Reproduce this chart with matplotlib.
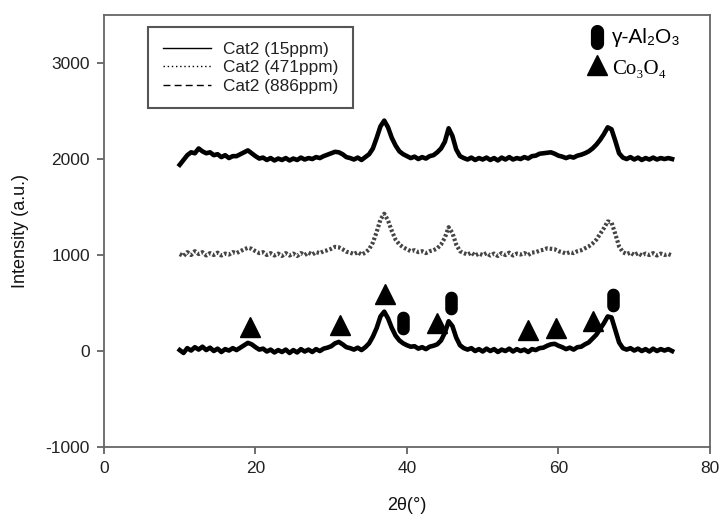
import numpy as np
import matplotlib
matplotlib.use('Agg')
import matplotlib.pyplot as plt
from matplotlib.path import Path
from matplotlib.lines import Line2D

# XRD patterns, 0.5 deg steps from 10 to 75 deg (2theta)
theta_start = 10.0
theta_step = 0.5

cat2_15ppm = [
    1940, 1990, 2040, 2070, 2060, 2110, 2080, 2060, 2070, 2040,
    2050, 2020, 2040, 2010, 2030, 2030, 2050, 2070, 2090, 2060,
    2030, 2005, 2015, 1990, 2010, 1985, 2005, 1990, 2010, 1985,
    2005, 1990, 2015, 1995, 2010, 2000, 2020, 2010, 2030, 2045,
    2060, 2075, 2070, 2050, 2020, 2010, 1995, 2015, 1990, 2020,
    2050, 2110, 2220, 2340, 2400, 2330, 2220, 2140, 2080, 2050,
    2030, 2010, 2025, 2000, 2020, 2005, 2030, 2040, 2070, 2110,
    2180, 2320, 2240, 2100, 2030, 2010, 1995, 2015, 1990, 2010,
    1995, 2015, 1990, 2010, 1985, 2015, 1995, 2020, 1995, 2010,
    2000, 2020, 2005, 2030, 2035, 2055, 2060, 2065, 2070, 2055,
    2035, 2025, 2010, 2025, 2015, 2035, 2045, 2060, 2080, 2110,
    2150, 2200, 2260, 2330, 2310, 2190, 2060, 2015, 2000, 2020,
    1995, 2015, 1990, 2010, 1995, 2015, 1995, 2010, 2000, 2010,
    2000]

cat2_471ppm = [
    1010, 990, 1030, 1000, 1040, 1010, 1030, 995, 1020, 1000,
    1025, 995, 1015, 1005, 1030, 1020, 1040, 1060, 1075, 1065,
    1040, 1020, 1030, 1000, 1020, 995, 1015, 990, 1020, 995,
    1015, 990, 1020, 1000, 1025, 1005, 1030, 1020, 1040, 1050,
    1065, 1085, 1080, 1060, 1035, 1025, 1010, 1030, 1005, 1025,
    1060, 1130, 1240, 1370, 1430, 1360, 1250, 1160, 1110, 1080,
    1060, 1040, 1050, 1030, 1040, 1020, 1040, 1050, 1070, 1110,
    1180, 1290, 1230, 1110, 1040, 1020, 1005, 1025, 995, 1015,
    1000, 1020, 995, 1015, 990, 1020, 1000, 1025, 995, 1015,
    1005, 1020, 1000, 1025, 1030, 1045, 1055, 1070, 1065, 1060,
    1040, 1030, 1015, 1030, 1020, 1040, 1050, 1070, 1090, 1120,
    1160, 1220, 1280, 1350, 1340, 1220, 1090, 1030, 1010, 1025,
    1000, 1020, 995, 1015, 1000, 1020, 995, 1015, 1000, 1010,
    995]

cat2_886ppm = [
    10, -20, 30, 5, 40, 15, 45, 10, 35, 0,
    25, -10, 20, 5, 30, 10, 35, 60, 85, 70,
    40, 15, 25, -5, 15, -15, 10, -10, 15, -20,
    10, -15, 20, -5, 15, -10, 20, 0, 25, 35,
    50, 80, 95, 70, 40, 30, 15, 35, 10, 40,
    80, 150, 240, 360, 410, 340, 240, 160, 110, 80,
    60, 45, 50, 25, 40, 20, 45, 55, 70, 110,
    190, 310, 260, 140, 60, 30, 15, 30, 0, 20,
    -5, 25, 0, 20, -10, 15, 0, 25, -5, 20,
    0, 15, -10, 20, 10, 30, 35, 55, 70, 75,
    55, 40, 20, 35, 15, 40, 45, 70, 90, 130,
    170, 230, 290, 360, 350, 220, 90, 30, 15, 30,
    5, 25, 0, 20, -5, 25, 0, 20, 5, 20,
    0]

labels = ['Cat2 (15ppm)', 'Cat2 (471ppm)', 'Cat2 (886ppm)']

# phase markers on the bottom pattern
co3o4_x = [19.3, 31.2, 37.1, 44.0, 56.0, 59.7, 64.6]
co3o4_y = [250, 270, 597, 293, 220, 240, 314]
al2o3_x = [39.5, 45.8, 67.2]
al2o3_y = [293, 503, 534]

plt.rcParams['font.family'] = ['Liberation Sans', 'DejaVu Sans']
plt.rcParams['axes.unicode_minus'] = False

# capsule shaped marker for gamma-Al2O3
t = np.linspace(0, np.pi, 20)
top = np.column_stack([0.5 * np.cos(t), 0.5 + 0.5 * np.sin(t)])
bot = np.column_stack([-0.5 * np.cos(t), -0.5 - 0.5 * np.sin(t)])
capsule = Path(np.vstack([top, bot, top[:1]]), closed=True)

fig = plt.figure(figsize=(7.21, 5.18), dpi=100)
ax = fig.add_axes([0.1442, 0.137, 0.8405, 0.834])

x = theta_start + theta_step * np.arange(len(cat2_15ppm))
ax.plot(x, cat2_15ppm, color='black', lw=3.3, ls='-')
ax.plot(x, cat2_471ppm, color='#444444', lw=3.0, ls=(0, (0.6, 0.5)))
ax.plot(x, cat2_886ppm, color='black', lw=3.3, ls='-')

ax.plot(co3o4_x, co3o4_y, ls='none', marker='^', ms=15, color='black')
ax.plot(al2o3_x, al2o3_y, ls='none', marker=capsule, ms=16, color='black')

ax.set_xlim(0, 80)
ax.set_ylim(-1000, 3500)
ax.set_xticks([0, 20, 40, 60, 80])
ax.set_yticks([-1000, 0, 1000, 2000, 3000])
ax.tick_params(direction='out', length=5, width=1.2, labelsize=12.5,
               colors='#555555', labelcolor='#222222', pad=5)
for s in ax.spines.values():
    s.set_color('#666666')
    s.set_linewidth(1.3)

ax.set_xlabel('2θ(°)', fontsize=13, labelpad=15, color='#111111')
ax.set_ylabel('Intensity (a.u.)', fontsize=13, labelpad=12, color='#111111')

handles = [Line2D([], [], color='black', lw=1, ls='-'),
           Line2D([], [], color='black', lw=1, ls=(0, (1, 2))),
           Line2D([], [], color='black', lw=1, ls=(0, (5, 3)))]
leg = ax.legend(handles, labels, loc='upper left', bbox_to_anchor=(0.0726, 0.972),
                borderaxespad=0, fontsize=12.4, handlelength=2.8,
                handletextpad=0.7, labelspacing=0.2, borderpad=0.85,
                fancybox=False, framealpha=1, edgecolor='#555555')
leg.get_frame().set_linewidth(1.5)
for txt in leg.get_texts():
    txt.set_color('#222222')

# phase key, top right
ax.plot([0.8135], [0.949], transform=ax.transAxes, ls='none', marker=capsule,
        ms=17, color='black', clip_on=False)
ax.text(0.838, 0.947, 'γ-Al₂O₃', transform=ax.transAxes, fontsize=15,
        va='center', ha='left')
ax.plot([0.8135], [0.884], transform=ax.transAxes, ls='none', marker='^',
        ms=15, color='black', clip_on=False)
ax.text(0.838, 0.874, 'Co₃O₄', transform=ax.transAxes, fontsize=15,
        va='center', ha='left', family=['Liberation Serif', 'DejaVu Serif'])

fig.savefig('out.png', dpi=100)
